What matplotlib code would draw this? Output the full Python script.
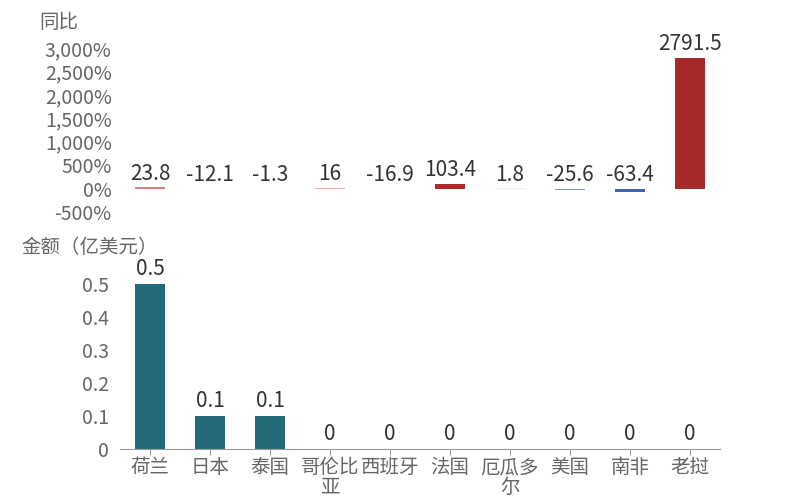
import matplotlib
matplotlib.use("Agg")
import matplotlib.pyplot as plt
import numpy as np

plt.rcParams['font.family'] = ['Noto Sans CJK SC', 'DejaVu Sans']

categories = ["荷兰", "日本", "泰国", "哥伦比\n亚", "西班牙", "法国", "厄瓜多\n尔", "美国", "南非", "老挝"]
yoy = [23.8, -12.1, -1.3, 16, -16.9, 103.4, 1.8, -25.6, -63.4, 2791.5]
amount = [0.5, 0.1, 0.1, 0, 0, 0, 0, 0, 0, 0]
yoy_colors = ["#e0807a", "#b0b8c4", "#eeeeee", "#e8a8a8", "#8896b0", "#b02a2a", "#f0eaea", "#7d9fd0", "#3a68b4", "#a52a2a"]

fig = plt.figure(figsize=(8, 5), dpi=100)
ax1 = fig.add_axes([0.15, 0.576, 0.75, 0.328])
ax2 = fig.add_axes([0.15, 0.102, 0.75, 0.363])
x = np.arange(len(categories))
grey = "#666666"

ax1.bar(x, yoy, width=0.5, color=yoy_colors)
ax1.set_ylim(-500, 3000)
ax1.set_xlim(-0.5, len(categories) - 0.5)
ax1.set_yticks(range(-500, 3001, 500))
ax1.set_yticklabels([f"{v:,}%" for v in range(-500, 3001, 500)])
ax1.set_xticks([])
for s in ax1.spines.values():
    s.set_visible(False)
ax1.tick_params(axis='y', length=0, labelsize=14, labelcolor=grey, pad=6)
for i, v in enumerate(yoy):
    ax1.text(i, max(v, 0) + 60, f"{v:g}", ha='center', va='bottom', fontsize=15, color="#333333")
ax1.text(-0.07, 1.09, "同比", transform=ax1.transAxes, ha='right', va='bottom', fontsize=14, color=grey)

ax2.bar(x, amount, width=0.5, color="#246b7a")
ax2.set_ylim(0, 0.55)
ax2.set_xlim(-0.5, len(categories) - 0.5)
ax2.set_yticks([0, 0.1, 0.2, 0.3, 0.4, 0.5])
ax2.set_yticklabels(["0", "0.1", "0.2", "0.3", "0.4", "0.5"])
ax2.set_xticks(x)
ax2.set_xticklabels(categories, linespacing=0.9)
for k in ['top', 'right', 'left']:
    ax2.spines[k].set_visible(False)
ax2.spines['bottom'].set_color("#999999")
ax2.tick_params(axis='y', length=0, labelsize=14, labelcolor=grey, pad=8)
ax2.tick_params(axis='x', length=4, color="#999999", labelsize=14, labelcolor=grey, pad=2)
for i, v in enumerate(amount):
    ax2.text(i, v + 0.012, f"{v:g}", ha='center', va='bottom', fontsize=15, color="#333333")
ax2.text(-0.05, 1.05, "金额（亿美元）", transform=ax2.transAxes, ha='center', va='bottom', fontsize=14, color=grey)

fig.savefig("out.png", dpi=100)
